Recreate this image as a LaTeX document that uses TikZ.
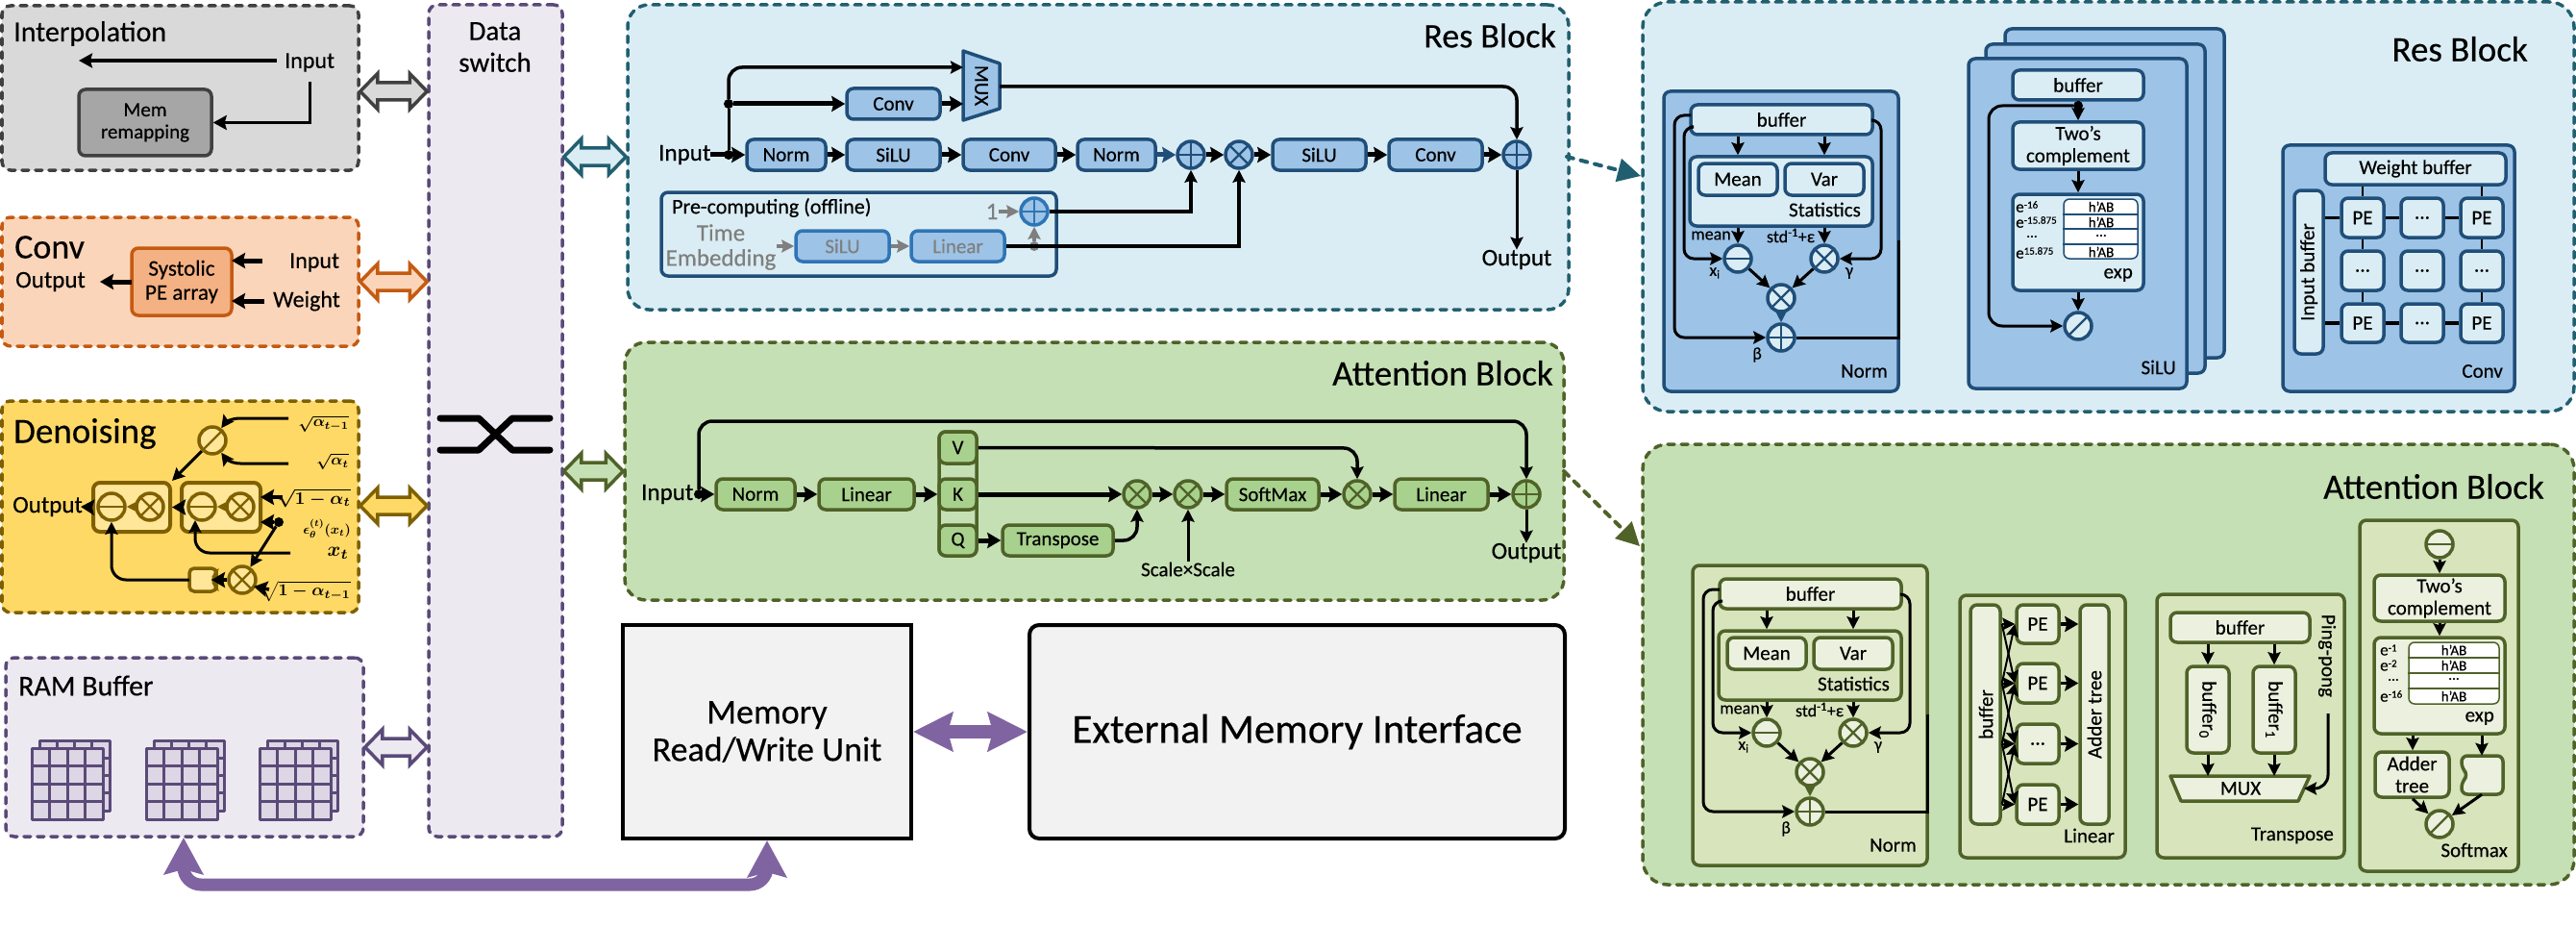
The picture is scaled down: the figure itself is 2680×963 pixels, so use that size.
\documentclass[tikz,border=0pt]{standalone}
\usepackage[no-math]{fontspec}
\setmainfont{Carlito}[FakeBold=0.35]
\usetikzlibrary{arrows.meta,calc}
\newcommand\fs[2]{\fontsize{#1}{#2}\selectfont}
\newcommand\pal[4]{\definecolor{bk}{HTML}{#1}\definecolor{bf}{HTML}{#2}\definecolor{bi}{HTML}{#3}\definecolor{bs}{HTML}{#4}}
\newcommand\ee[1]{e\raisebox{4pt}{\fs{11}{11}#1}}
\definecolor{graytxt}{HTML}{7F7F7F}
\definecolor{memp}{HTML}{8064A2}
\tikzset{
 blockbox/.style={draw=bk,fill=bf,line width=3.5,dash pattern=on 7pt off 7pt,line cap=round,rounded corners=9,inner sep=0},
 unit/.style={draw=bk,fill=bi,line width=3.5,rounded corners=7,inner sep=0,align=center,font={\fs{21}{23}}},
 panel/.style={draw=bk,fill=bp,line width=3.5,rounded corners=7,inner sep=0},
 tbl/.style={draw=bk,fill=white,line width=1.5,rounded corners=6,inner sep=0},
 lbl/.style={inner sep=0,align=center,font={\fs{21}{25}}},
 small/.style={inner sep=0,align=center,font={\fs{18}{20}}},
 cell/.style={inner sep=0,align=center,font={\fs{15}{15}}},
 elab/.style={inner sep=0,anchor=west,font={\fs{17}{17}}},
 title/.style={inner sep=0,anchor=west,font={\fs{30}{36}}},
 wire/.style={draw=black,line width=5,-{Stealth[length=14pt,width=16pt,inset=2pt]}},
 thw/.style={draw=black,line width=3,-{Stealth[length=13pt,width=13pt,inset=2pt]}},
 plain/.style={draw=black,line width=3},
 dotn/.style={circle,fill=black,inner sep=0,minimum size=10},
 op/.style={circle,draw=bk,fill=bi,line width=3.5,inner sep=0,minimum size=28},
 oplus/.style={op,path picture={\draw[bk,line width=2.4] (path picture bounding box.north)--(path picture bounding box.south) (path picture bounding box.west)--(path picture bounding box.east);}},
 otimes/.style={op,path picture={\draw[bk,line width=2.4] (path picture bounding box.north west)--(path picture bounding box.south east) (path picture bounding box.north east)--(path picture bounding box.south west);}},
 ominus/.style={op,path picture={\draw[bk,line width=2.4] (path picture bounding box.west)--(path picture bounding box.east);}},
 odiv/.style={op,path picture={\draw[bk,line width=2.4] (path picture bounding box.north east)--(path picture bounding box.south west);}},
 memarrow/.style={draw=memp,line width=13,{Stealth[length=38pt,width=40pt,inset=5pt]}-{Stealth[length=38pt,width=40pt,inset=5pt]}},
}
\newcommand\bx[7][unit]{\node[#1,minimum width={#5-#3},minimum height={#6-#4}] (#2) at ({(#3+#5)/2},{(#4+#6)/2}) {#7};}
\newcommand\dbl[3]{\coordinate (dl) at (#1.east |- 0,#3); \coordinate (dr) at (#2.west |- 0,#3);
 \draw[draw=bk,fill=bf,line width=3.5,line join=miter] (dl) -- ($(dl)+(18,-18.5)$) -- ($(dl)+(18,-9)$) -- ($(dr)+(-18,-9)$) -- ($(dr)+(-18,-18.5)$) -- (dr) -- ($(dr)+(-18,18.5)$) -- ($(dr)+(-18,9)$) -- ($(dl)+(18,9)$) -- ($(dl)+(18,18.5)$) -- cycle;}
\newcommand\gridrect[4]{\draw[draw=bk,fill=bs,line width=3,line join=round] (#1,#2) rectangle ({#1+#3},{#2+#4});
 \foreach \i in {1,2,3} {\draw[draw=bk,line width=3] ({#1+\i*#3/4},#2) -- ({#1+\i*#3/4},{#2+#4}); \draw[draw=bk,line width=3] (#1,{#2+\i*#4/4}) -- ({#1+#3},{#2+\i*#4/4});}}
\newcommand\ramgrid[2]{\gridrect{#1+8}{#2-8}{73}{73}\gridrect{#1}{#2}{74}{74}}
\newcommand\normpanel[1]{%
 \bx[panel]{#1pan}{1731}{95}{1975}{407}{}
 \bx{#1buf}{1759}{109}{1948}{140}{buffer}
 \bx[unit,fill=bs]{#1stat}{1758}{163}{1948}{235}{}
 \bx{#1mean}{1767}{170}{1849}{203}{Mean}
 \bx{#1var}{1857}{170}{1939}{203}{Var}
 \node[lbl,anchor=east] (#1st) at (1936,218) {Statistics};
 \node[otimes] (#1t) at (1898,269) {};
 \node[ominus] (#1m) at (1808,269) {};
 \node[otimes] (#1c) at (1853,310) {};
 \node[oplus] (#1p) at (1853,351) {};
 \node[small] (#1lm) at (1780,245) {mean};
 \node[small] (#1ls) at (1863,245) {std\textsuperscript{-1}+ε};
 \node[small] (#1lx) at (1784,284) {x\textsubscript{i}};
 \node[small] (#1lg) at (1924,284) {γ};
 \node[small] (#1lb) at (1828,369) {β};
 \node[lbl,anchor=east] (#1nm) at (1964,386) {Norm};
 \draw[thw] (#1buf.south -| #1mean) -- (#1stat.north -| #1mean);
 \draw[thw] (#1buf.south -| #1var) -- (#1stat.north -| #1var);
 \draw[thw] (#1stat.south -| #1m) -- (#1m);
 \draw[thw] (#1stat.south -| #1t) -- (#1t);
 \draw[thw] (#1m) -- (#1c);
 \draw[thw] (#1t) -- (#1c);
 \draw[thw,draw=bk] (#1c) -- (#1p);
 \coordinate (#1o1) at (1759,120);
 \coordinate (#1o2) at (1759,132);
 \coordinate (#1o3) at (1948,125);
 \coordinate (#1o4) at (1975,250);
 \draw[thw,rounded corners=10] (#1o1) -- (1742,120) -- (1742,351) -- (#1p);
 \draw[thw,rounded corners=10] (#1o2) -- (1752,132) -- (1752,269) -- (#1m);
 \draw[thw,rounded corners=10] (#1o3) -- (1957,125) -- (1957,269) -- (#1t);
 \draw[plain] (#1p) -| (#1o4);
}
\begin{document}
\begin{tikzpicture}[x=1pt,y=-1pt]
\path[fill=white,use as bounding box] (0,0) rectangle (2680,963);

% ---- Data switch
\begin{scope}
\pal{5A4A78}{ECE9F1}{ECE9F1}{DDD6E4}
\bx[blockbox]{data}{446}{5}{585}{870}{}
\node[lbl,font={\fs{29}{33}}] (datal) at (515,49) {Data\\switch};
\draw[line width=7,line cap=round,line join=round] (458,435) -- (498,435) -- (533,468) -- (572,468);
\draw[line width=7,line cap=round,line join=round] (458,468) -- (498,468) -- (533,435) -- (572,435);
\end{scope}

% ---- Interpolation
\begin{scope}
\pal{404040}{D9D9D9}{A6A6A6}{A6A6A6}
\bx[blockbox]{interp}{2}{6}{373}{177}{}
\node[title] (interpt) at (14,35) {Interpolation};
\node[lbl,anchor=west,font={\fs{24}{28}}] (interpin) at (296,65) {Input};
\bx[unit,font={\fs{21}{23}}]{memrm}{82}{93}{220}{162}{Mem\\remapping}
\coordinate (ia) at (288,63);
\coordinate (ib) at (82,63);
\coordinate (ic) at (322,85);
\draw[line width=4.5,-{Stealth[length=14pt,width=15pt,inset=2pt]}] (ia) -- (ib);
\draw[line width=3,-{Stealth[length=14pt,width=15pt,inset=2pt]}] (ic) |- (memrm.east);
\dbl{interp}{data}{95}
\end{scope}

% ---- Conv
\begin{scope}
\pal{C55A11}{FBD5B9}{F4B183}{F4B183}
\bx[blockbox]{conv}{2}{226}{373}{360}{}
\node[title,font={\fs{36}{40}}] (convt) at (15,257) {Conv};
\node[lbl,anchor=west,font={\fs{25}{28}}] (convo) at (16,293) {Output};
\node[lbl,anchor=west,font={\fs{24}{28}}] (convi) at (301,273) {Input};
\node[lbl,anchor=east,font={\fs{24}{28}}] (convw) at (354,313) {Weight};
\bx[unit,font={\fs{23}{25}}]{syst}{137}{258}{241}{328}{Systolic\\PE array}
\coordinate (cia) at (273,271);
\coordinate (cib) at (241,271);
\coordinate (cwa) at (275,313);
\coordinate (cwb) at (241,313);
\coordinate (coa) at (137,293);
\coordinate (cob) at (104,293);
\draw[wire] (cia) -- (cib);
\draw[wire] (cwa) -- (cwb);
\draw[wire] (coa) -- (cob);
\dbl{conv}{data}{293}
\end{scope}

% ---- Denoising
\begin{scope}
\pal{7F6000}{FFD966}{FFE699}{FFE699}
\bx[blockbox]{deno}{2}{417}{373}{637}{}
\node[title,font={\fs{37}{40}}] (denot) at (14,451) {Denoising};
\node[lbl,anchor=west,font={\fs{25}{26}}] (denoo) at (13,527) {Output};
\bx[unit,line width=4]{dbox1}{97}{502}{177}{553}{}
\bx[unit,line width=4]{dbox2}{189}{502}{271}{553}{}
\node[ominus] (dm1) at (116,527) {};
\node[otimes] (dt1) at (156,527) {};
\node[ominus] (dm2) at (210,527) {};
\node[otimes] (dt2) at (250,527) {};
\node[odiv] (dd) at (221,458) {};
\node[otimes] (dt3) at (252,603) {};
\node[inner sep=0,minimum width=28,minimum height=24] (ddel) at (211,603) {};
\draw[draw=bk,fill=bi,line width=3.5,rounded corners=5] (197,591) -- (225,591) -- (225,597) -- (220,603) -- (225,609) -- (225,615) -- (197,615) -- cycle;
\node[inner sep=0,anchor=east] (l1) at (363,441) {\scalebox{1.6}{\boldmath$\sqrt{\alpha_{t-1}}$}};
\node[inner sep=0,anchor=east] (l2) at (363,480) {\scalebox{1.6}{\boldmath$\sqrt{\alpha_{t}}$}};
\node[inner sep=0,anchor=east] (l3) at (365,518) {\scalebox{1.85}{\boldmath$\sqrt{1-\alpha_{t}}$}};
\node[inner sep=0,anchor=east] (l4) at (365,550) {\scalebox{1.4}{\boldmath$\epsilon_{\theta}^{(t)}(x_t)$}};
\node[inner sep=0,anchor=east] (l5) at (363,575) {\scalebox{2.1}{\boldmath$x_{t}$}};
\node[inner sep=0,anchor=east] (l6) at (365,615) {\scalebox{1.75}{\boldmath$\sqrt{1-\alpha_{t-1}}$}};
\coordinate (d1) at (300,435);
\coordinate (d2) at (300,482);
\coordinate (d3) at (294,517);
\coordinate (d5) at (302,575);
\coordinate (d6) at (280,613);
\coordinate (d7) at (203,541);
\coordinate (d8) at (271,517);
\coordinate (d9) at (271,543);
\coordinate (d10) at (264,610);
\coordinate (d11) at (84,527);
\coordinate (d12) at (220,603);
\node[dotn] (ddot) at (290,543) {};
\draw[thw] (d1) -- (250,435) .. controls (240,435) and (234,440) .. (dd);
\draw[thw] (d2) -- (250,482) .. controls (240,482) and (234,476) .. (dd);
\draw[thw] (dd) -- (dbox1.north east);
\draw[wire,line width=3.5] (d3) -- (d8);
\draw[wire,line width=3.5] (ddot) -- (d9);
\draw[thw] (ddot) -- (dt3);
\draw[wire,line width=3.5] (d6) -- (d10);
\draw[thw,rounded corners=15] (d5) -| (d7);
\draw[thw,rounded corners=15] (ddel.west) -| (dm1);
\draw[wire,line width=3.5] (dbox2.west) -- (dbox1.east);
\draw[wire,line width=3.5] (dbox1.west) -- (d11);
\draw[thw,draw=bk,line width=3.5] (dt1) -- (dm1);
\draw[thw,draw=bk,line width=3.5] (dt2) -- (dm2);
\draw[wire,line width=3.5] (dt3) -- (d12);
\dbl{deno}{data}{526}
\end{scope}

% ---- RAM buffer
\begin{scope}
\pal{5A4A78}{ECE9F1}{ECE9F1}{DDD6E4}
\bx[blockbox]{ram}{6}{684}{378}{870}{}
\node[title] (ramt) at (19,713) {RAM Buffer};
\ramgrid{33}{778}
\ramgrid{152}{778}
\ramgrid{270}{778}
\dbl{ram}{data}{777}
\end{scope}

% ---- Memory
\bx[draw=black,fill=black!5,line width=4,inner sep=0,align=center,font={\fs{36}{39}}]{memrw}{648}{650}{948}{872}{Memory\\Read/Write Unit}
\bx[draw=black,fill=black!5,line width=4,inner sep=0,rounded corners=10,font={\fs{43}{50}}]{extm}{1071}{650}{1628}{872}{External Memory Interface}
\draw[memarrow,line width=14,{Stealth[length=41pt,width=40pt,inset=5pt]}-{Stealth[length=41pt,width=40pt,inset=5pt]}] (memrw.east) -- (extm.west);
\coordinate (ra) at (191,871);
\draw[memarrow,rounded corners=18] (ra) -- (191,920) -- (798,920) -- (memrw.south);

% ---- main Res Block
\begin{scope}
\pal{215F70}{DBEDF4}{9DC3E6}{9DC3E6}
\bx[blockbox,rounded corners=22]{resb}{653}{5}{1632}{322}{}
\dbl{data}{resb}{163}
\definecolor{bk}{HTML}{1F4E79}
\node[lbl,anchor=east,font={\fs{36}{40}}] (resbt) at (1619,37) {Res Block};
\node[lbl,anchor=west,font={\fs{25}{28}}] (rin) at (685,161) {Input};
\bx{rnorm1}{777}{145}{859}{177}{Norm}
\bx{rsilu1}{881}{145}{978}{177}{SiLU}
\bx{rconv1}{1002}{145}{1098}{177}{Conv}
\bx{rnorm2}{1121}{145}{1202}{177}{Norm}
\bx{rsilu2}{1324}{145}{1421}{177}{SiLU}
\bx{rconv2}{1445}{145}{1542}{177}{Conv}
\bx{rconv3}{881}{92}{978}{124}{Conv}
\node[oplus] (rp1) at (1239,161) {};
\node[otimes] (rt1) at (1289,161) {};
\node[oplus] (rp2) at (1578,161) {};
\draw[draw=bk,fill=bi,line width=3.5,line join=round] (1002,53) -- (1040,66) -- (1040,113) -- (1002,125) -- cycle;
\node[lbl,rotate=-90] (rmux) at (1021,89) {MUX};
\coordinate (mi1) at (1002,70);
\coordinate (mi2) at (1002,108);
\coordinate (mo) at (1040,90);
\node[dotn] (rd1) at (758,161) {};
\node[dotn] (rd2) at (758,108) {};
\node[lbl,font={\fs{25}{28}}] (rout) at (1578,270) {Output};
% pre-computing
\bx[unit,fill=bf]{rpre}{688}{200}{1099}{287}{}
\node[lbl,anchor=west,font={\fs{22}{25}}] (rprel) at (699,216) {Pre-computing (offline)};
\definecolor{bk}{HTML}{2E75B6}
\node[lbl,font={\fs{25}{26}},text=graytxt] (rtime) at (750,257) {Time\\Embedding};
\bx[unit,text=graytxt]{rsilu3}{828}{240}{925}{272}{SiLU}
\bx[unit,text=graytxt]{rlin3}{948}{240}{1045}{272}{Linear}
\node[oplus] (rp3) at (1076,220) {};
\node[lbl,font={\fs{25}{28}},text=graytxt] (rone) at (1032,220) {1};
\node[dotn,fill=graytxt] (rgd) at (1076,256) {};
\draw[wire] (rin) -- (rnorm1);
\draw[plain] (rd1) -- (rd2);
\draw[thw,line width=3.5,rounded corners=14] (rd2) -- (758,70) -- (mi1);
\draw[wire] (rd2) -- (rconv3);
\draw[wire] (rconv3) -- (mi2);
\draw[wire] (rnorm1) -- (rsilu1);
\draw[wire] (rsilu1) -- (rconv1);
\draw[wire] (rconv1) -- (rnorm2);
\definecolor{bk}{HTML}{1F4E79}
\draw[wire,draw=bk] (rnorm2) -- (rp1);
\draw[wire] (rp1) -- (rt1);
\draw[wire] (rt1) -- (rsilu2);
\draw[wire] (rsilu2) -- (rconv2);
\draw[wire] (rconv2) -- (rp2);
\draw[thw,line width=3.5,rounded corners=14] (mo) -- (1578,90) -- (rp2);
\draw[thw] (rp2) -- (rout);
\draw[thw,draw=graytxt,line width=4] (rtime.east |- rsilu3) -- (rsilu3);
\draw[thw,draw=graytxt,line width=4] (rsilu3) -- (rlin3);
\draw[thw,draw=graytxt,line width=4] (rone) -- (rp3);
\draw[thw,draw=graytxt,line width=4] (rgd) -- (rp3);
\draw[thw,line width=3.5] (rp3) -| (rp1);
\draw[thw,line width=3.5] (rlin3) -| (rt1);
\end{scope}

% ---- main Attention Block
\begin{scope}
\pal{4F6228}{C5E0B4}{A9D18E}{A9D18E}
\bx[blockbox,rounded corners=22]{attb}{650}{356}{1627}{624}{}
\dbl{data}{attb}{490}
\node[lbl,anchor=east,font={\fs{37}{40}}] (attbt) at (1616,388) {Attention Block};
\node[lbl,anchor=west,font={\fs{25}{28}}] (ain) at (667,514) {Input};
\bx{anorm}{745}{498}{827}{530}{Norm}
\bx{alin1}{852}{498}{951}{530}{Linear}
\bx[unit,fill=bf]{avkq}{977}{449}{1016}{578}{}
\bx{aV}{977}{449}{1016}{482}{V}
\bx{aK}{977}{498}{1016}{530}{K}
\bx{aQ}{977}{546}{1016}{578}{Q}
\bx{atr}{1043}{546}{1158}{578}{Transpose}
\bx{asoft}{1276}{498}{1372}{530}{SoftMax}
\bx{alin2}{1451}{498}{1548}{530}{Linear}
\node[otimes] (at1) at (1183,514) {};
\node[otimes] (at2) at (1236,514) {};
\node[otimes] (at3) at (1412,514) {};
\node[oplus] (ap) at (1588,514) {};
\node[dotn] (ad) at (727,514) {};
\node[lbl,font={\fs{25}{28}}] (aout) at (1588,575) {Output};
\node[lbl] (ascale) at (1236,592) {Scale×Scale};
\draw[wire] (ad) -- (anorm);
\draw[wire] (anorm) -- (alin1);
\draw[wire] (alin1) -- (aK);
\draw[wire] (aK) -- (at1);
\draw[wire] (at1) -- (at2);
\draw[wire] (at2) -- (asoft);
\draw[wire] (asoft) -- (at3);
\draw[wire] (at3) -- (alin2);
\draw[wire] (alin2) -- (ap);
\draw[wire] (aQ) -- (atr);
\draw[thw,line width=3.5,rounded corners=14] (ad) -- (727,438) -- (1588,438) -- (ap);
\draw[thw,line width=3.5,rounded corners=14] (aV) -- (1412,466) -- (at3);
\draw[thw,line width=3.5,rounded corners=14] (atr) -- (1183,562) -- (at1);
\draw[thw] (ascale) -- (at2);
\draw[thw] (ap) -- (aout);
\end{scope}

% ---- right Res Block
\begin{scope}
\pal{215F70}{DBEDF4}{DBEDF4}{DBEDF4}
\definecolor{bp}{HTML}{9DC3E6}
\bx[blockbox,rounded corners=26]{rrb}{1709}{2}{2678}{428}{}
\coordinate (dsa) at (1630,163);
\coordinate (dsb) at (1707,183);
\draw[bk,line width=4,dash pattern=on 7pt off 8pt,line cap=round,-{Triangle[length=24pt,width=24pt]}] (dsa) -- (dsb);
\node[lbl,anchor=east,font={\fs{37}{40}}] (rrbt) at (2630,51) {Res Block};
\definecolor{bk}{HTML}{1F4E79}
\normpanel{rn}
% SiLU stack
\bx[panel]{rs3}{2086}{30}{2314}{372}{}
\bx[panel]{rs2}{2066}{46}{2294}{388}{}
\bx[panel]{rs1}{2048}{61}{2275}{404}{}
\bx{rsb}{2094}{73}{2230}{104}{buffer}
\bx{rst}{2094}{127}{2230}{176}{Two’s\\complement}
\bx{rse}{2094}{202}{2230}{302}{}
\bx[tbl]{rstb}{2147}{207}{2224}{269}{}
\draw[bk,line width=1.5] (rstb.west |- 0,223) -- (rstb.east |- 0,223);
\draw[bk,line width=1.5] (rstb.west |- 0,238) -- (rstb.east |- 0,238);
\draw[bk,line width=1.5] (rstb.west |- 0,254) -- (rstb.east |- 0,254);
\node[cell] (rh1) at (2186,215) {h’AB};
\node[cell] (rh2) at (2186,231) {h’AB};
\node[cell] (rh3) at (2186,245) {...};
\node[cell] (rh4) at (2186,262) {h’AB};
\node[elab] (re1) at (2097,215) {\ee{-16}};
\node[elab] (re2) at (2097,231) {\ee{-15.875}};
\node[cell] (re3) at (2114,246) {...};
\node[elab] (re4) at (2097,263) {\ee{15.875}};
\node[lbl,anchor=east] (rexp) at (2219,286) {exp};
\node[odiv] (rsd) at (2162,339) {};
\node[lbl,anchor=east] (rsl) at (2264,382) {SiLU};
\node[dotn] (rsdot) at (2162,110) {};
\draw[thw] (rsdot) -- (rst);
\draw[plain] (rsb) -- (rsdot);
\draw[thw] (rst) -- (rse);
\draw[thw] (rse) -- (rsd);
\draw[thw,rounded corners=14] (rsdot) -- (2069,110) -- (2069,339) -- (rsd);
% Conv panel
\bx[panel]{rc}{2375}{151}{2616}{407}{}
\bx{rcw}{2419}{159}{2607}{192}{Weight buffer}
\bx{rci}{2387}{198}{2417}{368}{}
\node[lbl,rotate=90] (rcit) at (2402,283) {Input buffer};
\bx{pe11}{2436}{206}{2480}{247}{PE}
\bx{pe12}{2498}{206}{2542}{247}{...}
\bx{pe13}{2560}{206}{2604}{247}{PE}
\bx{pe21}{2436}{261}{2480}{302}{...}
\bx{pe22}{2498}{261}{2542}{302}{...}
\bx{pe23}{2560}{261}{2604}{302}{...}
\bx{pe31}{2436}{316}{2480}{356}{PE}
\bx{pe32}{2498}{316}{2542}{356}{...}
\bx{pe33}{2560}{316}{2604}{356}{PE}
\begin{scope}[line width=3.5]
\draw (rci.east |- pe11) -- (pe11);
\draw (pe11) -- (pe12);
\draw (pe12) -- (pe13);
\draw (rci.east |- pe31) -- (pe31);
\draw (pe31) -- (pe32);
\draw (pe32) -- (pe33);
\end{scope}
\begin{scope}[line width=2]
\draw (rcw.south -| pe11) -- (pe11);
\draw (rcw.south -| pe13) -- (pe13);
\draw (pe11) -- (pe21);
\draw (pe21) -- (pe31);
\draw (pe13) -- (pe23);
\draw (pe23) -- (pe33);
\end{scope}
\node[lbl,anchor=east] (rcl) at (2604,386) {Conv};
\end{scope}

% ---- right Attention Block
\begin{scope}
\pal{4F6228}{C5E0B4}{EBF1DE}{D8E4BC}
\definecolor{bp}{HTML}{D8E4BC}
\bx[blockbox,rounded corners=26]{rab}{1709}{462}{2678}{920}{}
\coordinate (dsc) at (1627,490);
\coordinate (dsd) at (1706,568);
\draw[bk,line width=4,dash pattern=on 7pt off 8pt,line cap=round,-{Triangle[length=24pt,width=24pt]}] (dsc) -- (dsd);
\node[lbl,anchor=east,font={\fs{37}{40}}] (rabt) at (2647,506) {Attention Block};
\begin{scope}[shift={(30,493)}]
\normpanel{an}
\end{scope}
% Linear
\bx[panel]{lpan}{2039}{619}{2211}{892}{}
\bx{lbuf}{2050}{629}{2081}{857}{}
\node[lbl,rotate=90] (lbuft) at (2066,743) {buffer};
\bx{lp1}{2098}{629}{2142}{669}{PE}
\bx{lp2}{2098}{690}{2142}{731}{PE}
\bx{lp3}{2098}{753}{2142}{794}{...}
\bx{lp4}{2098}{816}{2142}{857}{PE}
\bx{ladd}{2164}{629}{2194}{857}{}
\node[lbl,rotate=90] (laddt) at (2179,743) {Adder tree};
\foreach \a/\b in {1/1,1/2,2/1,2/2,2/3,3/2,3/3,3/4,4/3,4/4} {
 \draw[thw,line width=2] (lbuf.east |- lp\a) -- (lp\b.west);
}
\foreach \a in {1,2,3,4} {
 \draw[wire,line width=3.5] (lp\a) -- (ladd.west |- lp\a);
}
\node[lbl,anchor=east] (ll) at (2200,869) {Linear};
% Transpose
\bx[panel]{tpan}{2244}{618}{2439}{892}{}
\bx{tbuf}{2258}{637}{2403}{668}{buffer}
\bx{tb0}{2275}{693}{2319}{783}{}
\bx{tb1}{2344}{693}{2388}{783}{}
\node[lbl,rotate=-90] (tb0t) at (2297,738) {buffer\textsubscript{0}};
\node[lbl,rotate=-90] (tb1t) at (2366,738) {buffer\textsubscript{1}};
\draw[draw=bk,fill=bi,line width=3.5,line join=round] (2258,807) -- (2403,807) -- (2391,833) -- (2269,833) -- cycle;
\node[lbl] (tmux) at (2331,820) {MUX};
\node[lbl,rotate=-90] (tping) at (2421,682) {Ping-pong};
\coordinate (tm0) at (2297,807);
\coordinate (tm1) at (2366,807);
\coordinate (tmr) at (2397,820);
\coordinate (tpa) at (2422,742);
\draw[thw] (tbuf.south -| tb0) -- (tb0);
\draw[thw] (tbuf.south -| tb1) -- (tb1);
\draw[thw] (tb0) -- (tm0);
\draw[thw] (tb1) -- (tm1);
\draw[thw,rounded corners=14] (tpa) -- (2422,820) -- (tmr);
\node[lbl,anchor=east] (tl) at (2428,869) {Transpose};
% Softmax
\bx[panel]{span}{2455}{541}{2620}{906}{}
\node[ominus] (sm) at (2538,566) {};
\bx{stw}{2470}{598}{2606}{646}{Two’s\\complement}
\bx{sex}{2470}{663}{2606}{763}{}
\bx[tbl]{stb}{2506}{668}{2600}{732}{}
\draw[bk,line width=1.5] (stb.west |- 0,684) -- (stb.east |- 0,684);
\draw[bk,line width=1.5] (stb.west |- 0,700) -- (stb.east |- 0,700);
\draw[bk,line width=1.5] (stb.west |- 0,716) -- (stb.east |- 0,716);
\node[cell] (sh1) at (2553,676) {h’AB};
\node[cell] (sh2) at (2553,692) {h’AB};
\node[cell] (sh3) at (2553,706) {...};
\node[cell] (sh4) at (2553,724) {h’AB};
\node[elab] (se1) at (2476,676) {\ee{-1}};
\node[elab] (se2) at (2476,692) {\ee{-2}};
\node[cell] (se3) at (2490,707) {...};
\node[elab] (se4) at (2476,724) {\ee{-16}};
\node[lbl,anchor=east] (sexp) at (2595,747) {exp};
\bx{sadd}{2471}{782}{2548}{829}{Adder\\tree}
\node[inner sep=0,minimum width=43,minimum height=40] (sdel) at (2582,806) {};
\draw[draw=bk,fill=bi,line width=3.5,rounded corners=6] (2561,786) -- (2604,786) -- (2604,826) -- (2561,826) -- (2561,813) -- (2568,806) -- (2561,799) -- cycle;
\node[odiv] (sd) at (2538,857) {};
\node[lbl,anchor=east] (sl) at (2609,884) {Softmax};
\draw[thw] (sm) -- (stw);
\draw[thw] (stw) -- (sex);
\draw[thw] (sex.south -| 2510,0) -- (sadd.north -| 2510,0);
\draw[thw] (sex.south -| sdel) -- (sdel);
\draw[thw] (sadd.south -| 2510,0) -- (sd);
\draw[thw] (sdel.south) -- (sd);
\end{scope}
\end{tikzpicture}
\end{document}
